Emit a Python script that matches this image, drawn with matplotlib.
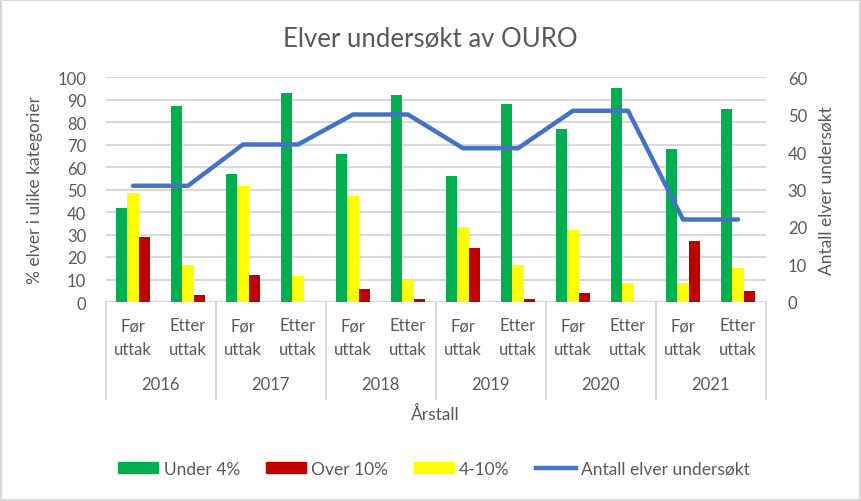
import matplotlib
matplotlib.use("Agg")
import matplotlib.pyplot as plt
import numpy as np
from matplotlib.lines import Line2D
from matplotlib.patches import Patch

plt.rcParams['font.family'] = ['Lato', 'DejaVu Sans']

years = ["2016", "2017", "2018", "2019", "2020", "2021"]
phases = ["Før\nuttak", "Etter\nuttak"]

under4 = [42, 87, 57, 93, 66, 92, 56, 88, 77, 95, 68, 86]
mid4_10 = [48.5, 16.5, 51.5, 11.5, 47, 10, 33.5, 16.5, 32, 8.5, 8.5, 15]
over10 = [29, 3, 12, 0, 6, 1.5, 24, 1.5, 4, 0, 27, 5]
antall = [31, 31, 42, 42, 50, 50, 41, 41, 51, 51, 22, 22]

green = "#00B050"
red = "#C00000"
yellow = "#FFFF00"
blue = "#4472C4"
txt = "#595959"
grid = "#D9D9D9"

W, H = 861, 502
fig = plt.figure(figsize=(W / 100, H / 100), dpi=100)
left, right, top, bottom = 105.5, 765.5, 78, 303
ax = fig.add_axes([left / W, 1 - bottom / H, (right - left) / W, (bottom - top) / H])

x = np.arange(len(under4))
bw = 0.21
ax.bar(x - bw, under4, bw, color=green, zorder=3)
ax.bar(x, mid4_10, bw, color=yellow, zorder=3)
ax.bar(x + bw, over10, bw, color=red, zorder=3)

ax.set_xlim(-0.5, len(x) - 0.5)
ax.set_ylim(0, 100)
ax.set_yticks(range(0, 101, 10))
ax.yaxis.grid(True, color=grid, linewidth=1.5, zorder=0)
ax.set_axisbelow(True)
for s in ax.spines.values():
    s.set_visible(False)
ax.tick_params(axis='y', length=0, labelsize=12, labelcolor=txt, pad=14)
ax.set_xticks([])
ax.axhline(0, color=grid, linewidth=1.5, zorder=2)
ax.set_ylabel("% elver i ulike kategorier", fontsize=12.5, color=txt, labelpad=10)

ax2 = ax.twinx()
ax2.plot(x, antall, color=blue, linewidth=3.2, solid_capstyle='round', zorder=4)
ax2.set_ylim(0, 60)
ax2.set_yticks(range(0, 61, 10))
for s in ax2.spines.values():
    s.set_visible(False)
ax2.tick_params(axis='y', length=0, labelsize=12, labelcolor=txt, pad=16)
ax2.set_ylabel("Antall elver undersøkt", fontsize=12.5, color=txt, labelpad=8)

# multi-level category axis
tr = ax.get_xaxis_transform()
ah = bottom - top
for i in x:
    ax.text(i, -(338 - bottom) / ah, phases[i % 2], transform=tr, ha='center', va='center',
            fontsize=12, color=txt, linespacing=1.55)
for j, yr in enumerate(years):
    ax.text(2 * j + 0.5, -(385 - bottom) / ah, yr, transform=tr, ha='center', va='center',
            fontsize=12, color=txt)
for k in range(len(years) + 1):
    ax.plot([2 * k - 0.5] * 2, [0, -(400 - bottom) / ah], transform=tr, color=grid,
            linewidth=1.5, clip_on=False)
ax.text(0.5, -(414 - bottom) / ah, "Årstall", transform=ax.transAxes, ha='center', va='center',
        fontsize=12.5, color=txt)

fig.text(430 / W, 1 - 40 / H, "Elver undersøkt av OURO", ha='center', va='center',
         fontsize=18.5, color=txt)

handles = [Patch(color=green), Patch(color=red), Patch(color=yellow),
           Line2D([], [], color=blue, linewidth=3.2)]
labels = ["Under 4%", "Over 10%", "4-10%", "Antall elver undersøkt"]
fig.legend(handles, labels, loc='center', bbox_to_anchor=(434 / W, 1 - 470 / H), ncol=4,
           frameon=False, fontsize=12.5, labelcolor=txt, handlelength=2.3, handleheight=0.6,
           columnspacing=1.5, handletextpad=0.3)

fig.patches.append(plt.Rectangle((0.001, 0.001), 0.998, 0.998, transform=fig.transFigure,
                                 fill=False, edgecolor=grid, linewidth=1.5))

fig.savefig("out.png", dpi=100)
